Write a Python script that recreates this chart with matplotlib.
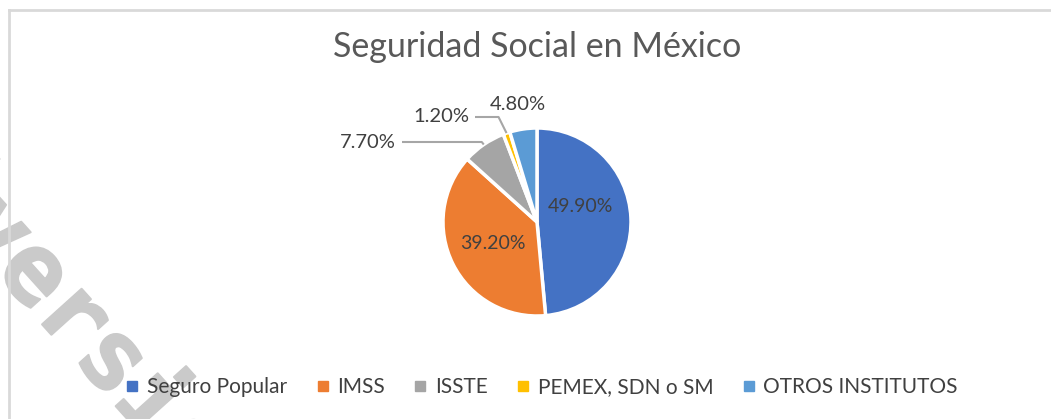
import matplotlib.pyplot as plt
import matplotlib.patheffects as pe
import numpy as np

# data
categories = ["Seguro Popular", "IMSS", "ISSTE", "PEMEX, SDN o SM", "OTROS INSTITUTOS"]
values = [49.9, 39.2, 7.7, 1.2, 4.8]
colors = ["#4472C4", "#ED7D31", "#A5A5A5", "#FFC000", "#5B9BD5"]
title = "Seguridad Social en México"

W, H = 1051, 419
FONT = "Lato"
TXT = "#404040"

fig = plt.figure(figsize=(W / 100, H / 100), dpi=100)
ax = fig.add_axes([0, 0, 1, 1])

cx, cy, R = 537, H - 222, 94
wedges, _ = ax.pie(values, colors=colors, startangle=90, counterclock=False,
                   center=(cx, cy), radius=R,
                   wedgeprops=dict(edgecolor="white", linewidth=2.5))
ax.set_xlim(0, W)
ax.set_ylim(0, H)
ax.set_aspect("equal")
ax.axis("off")


def mid(w):
    return np.deg2rad((w.theta1 + w.theta2) / 2)


labels = [f"{v:.2f}%" for v in values]

# inside labels
inside = {0: (0.46, 14), 1: (0.52, 0)}
for i, (dist, lift) in inside.items():
    a = mid(wedges[i])
    ax.text(cx + dist * R * np.cos(a), cy + dist * R * np.sin(a) + lift, labels[i],
            ha="center", va="center", fontsize=14, color=TXT, family=FONT)

# outside labels with leader lines
outside = {2: (-169, 80, 0), 3: (-96, 105, 6), 4: (-19, 118, None)}
for i, (dx, dy, gap) in outside.items():
    a = mid(wedges[i])
    ex, ey = cx + R * np.cos(a), cy + R * np.sin(a)
    tx, ty = cx + dx, cy + dy
    ax.text(tx, ty, labels[i], ha="center", va="center", fontsize=14.5,
            color=TXT, family=FONT)
    if gap is not None:
        x0 = tx + 34
        ax.plot([x0, ex - gap - 2, ex], [ty, ty, ey], color="#a6a6a6", lw=1.5,
                solid_capstyle="butt")

fig.text(cx / W, 1 - 47 / H, title, ha="center", va="center", fontsize=24.5,
         color="#595959", family=FONT)

handles = [plt.Line2D([], [], marker="s", ls="", color=c, markersize=7) for c in colors]
leg = fig.legend(handles, categories, loc="center", bbox_to_anchor=(542 / W, 1 - 387 / H),
                 ncol=5, frameon=False, handlelength=0.6, handletextpad=0.4,
                 columnspacing=1.4, prop=dict(family=FONT, size=15))
for t in leg.get_texts():
    t.set_color(TXT)

# chart area border (top and left visible)
fig.add_artist(plt.Line2D([9 / W, 1], [1 - 10 / H, 1 - 10 / H], color="#d9d9d9", lw=2))
fig.add_artist(plt.Line2D([9 / W, 9 / W], [0, 1 - 10 / H], color="#d9d9d9", lw=2))

# watermark
fig.text(72 / W, 1 - 318 / H, "Universidad", rotation=-48, rotation_mode="anchor",
         ha="center", va="center", fontsize=70, family="DejaVu Sans Mono",
         weight="bold", color="#cacaca", zorder=0,
         path_effects=[pe.withStroke(linewidth=1.5, foreground="#cacaca")])

fig.savefig("out.png", dpi=100)
